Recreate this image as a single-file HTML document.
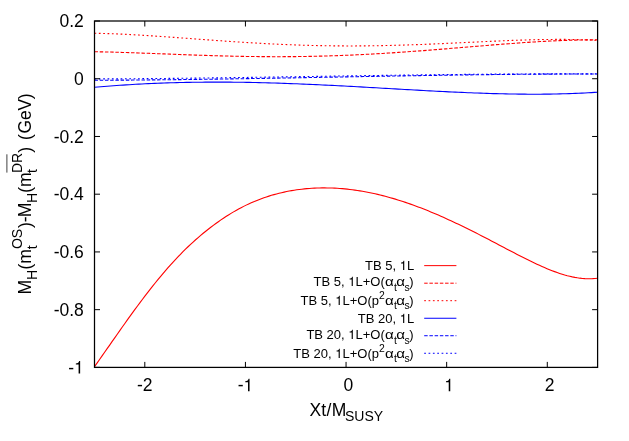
<!DOCTYPE html>
<html><head><meta charset="utf-8"><title>plot</title>
<style>
html,body{margin:0;padding:0;background:#fff;}
svg{display:block;will-change:transform;}
text{font-family:"Liberation Sans",sans-serif;fill:#000;}
.t{font-size:17.5px;}
.s{font-size:14px;}
.k{font-size:13px;}
.ks{font-size:10.4px;}
</style></head><body>
<svg width="629" height="441" viewBox="0 0 629 441">
<rect width="629" height="441" fill="#fff"/>
<g fill="none" stroke-width="1.1" stroke-linejoin="round">
<path d="M94.50,366.63 L97.03,363.07 L99.56,359.49 L102.08,355.90 L104.61,352.29 L107.14,348.68 L109.67,345.06 L112.20,341.44 L114.73,337.83 L117.25,334.22 L119.78,330.62 L122.31,327.04 L124.84,323.47 L127.37,319.92 L129.89,316.40 L132.42,312.90 L134.95,309.43 L137.48,305.99 L140.01,302.58 L142.53,299.21 L145.06,295.88 L147.59,292.58 L150.12,289.33 L152.65,286.13 L155.18,282.97 L157.70,279.86 L160.23,276.79 L162.76,273.78 L165.29,270.83 L167.82,267.93 L170.34,265.08 L172.87,262.29 L175.40,259.56 L177.93,256.89 L180.46,254.27 L182.98,251.71 L185.51,249.21 L188.04,246.77 L190.57,244.38 L193.10,242.06 L195.63,239.78 L198.15,237.56 L200.68,235.40 L203.21,233.28 L205.74,231.22 L208.27,229.21 L210.79,227.26 L213.32,225.35 L215.85,223.49 L218.38,221.68 L220.91,219.92 L223.44,218.21 L225.96,216.56 L228.49,214.95 L231.02,213.39 L233.55,211.89 L236.08,210.43 L238.60,209.03 L241.13,207.68 L243.66,206.38 L246.19,205.13 L248.72,203.93 L251.24,202.79 L253.77,201.69 L256.30,200.64 L258.83,199.64 L261.36,198.69 L263.89,197.78 L266.41,196.92 L268.94,196.11 L271.47,195.33 L274.00,194.60 L276.53,193.92 L279.05,193.27 L281.58,192.66 L284.11,192.10 L286.64,191.57 L289.17,191.08 L291.69,190.63 L294.22,190.21 L296.75,189.83 L299.28,189.49 L301.81,189.18 L304.34,188.91 L306.86,188.67 L309.39,188.46 L311.92,188.29 L314.45,188.15 L316.98,188.04 L319.50,187.96 L322.03,187.92 L324.56,187.91 L327.09,187.93 L329.62,187.98 L332.15,188.05 L334.67,188.16 L337.20,188.30 L339.73,188.47 L342.26,188.67 L344.79,188.90 L347.31,189.15 L349.84,189.44 L352.37,189.75 L354.90,190.09 L357.43,190.46 L359.95,190.86 L362.48,191.28 L365.01,191.73 L367.54,192.21 L370.07,192.71 L372.60,193.24 L375.12,193.79 L377.65,194.38 L380.18,194.98 L382.71,195.61 L385.24,196.27 L387.76,196.95 L390.29,197.66 L392.82,198.38 L395.35,199.14 L397.88,199.91 L400.41,200.71 L402.93,201.53 L405.46,202.37 L407.99,203.23 L410.52,204.11 L413.05,205.02 L415.57,205.94 L418.10,206.89 L420.63,207.85 L423.16,208.84 L425.69,209.84 L428.21,210.86 L430.74,211.90 L433.27,212.95 L435.80,214.03 L438.33,215.11 L440.86,216.22 L443.38,217.34 L445.91,218.48 L448.44,219.63 L450.97,220.79 L453.50,221.97 L456.02,223.16 L458.55,224.36 L461.08,225.58 L463.61,226.81 L466.14,228.05 L468.66,229.29 L471.19,230.55 L473.72,231.82 L476.25,233.10 L478.78,234.38 L481.31,235.68 L483.83,236.98 L486.36,238.29 L488.89,239.60 L491.42,240.92 L493.95,242.24 L496.47,243.57 L499.00,244.90 L501.53,246.23 L504.06,247.56 L506.59,248.89 L509.12,250.21 L511.64,251.54 L514.17,252.85 L516.70,254.17 L519.23,255.47 L521.76,256.76 L524.28,258.04 L526.81,259.30 L529.34,260.55 L531.87,261.78 L534.40,262.99 L536.92,264.18 L539.45,265.34 L541.98,266.48 L544.51,267.58 L547.04,268.65 L549.57,269.68 L552.09,270.68 L554.62,271.63 L557.15,272.54 L559.68,273.40 L562.21,274.21 L564.73,274.97 L567.26,275.67 L569.79,276.30 L572.32,276.88 L574.85,277.38 L577.37,277.81 L579.90,278.17 L582.43,278.45 L584.96,278.64 L587.49,278.74 L590.02,278.76 L592.54,278.67 L595.07,278.49 L597.60,278.20" stroke="#f00"/>
<path d="M94.50,51.73 L97.66,51.79 L100.83,51.85 L103.99,51.92 L107.16,51.99 L110.32,52.07 L113.48,52.15 L116.65,52.24 L119.81,52.34 L122.98,52.43 L126.14,52.53 L129.31,52.64 L132.47,52.75 L135.63,52.86 L138.80,52.97 L141.96,53.08 L145.13,53.20 L148.29,53.32 L151.45,53.44 L154.62,53.56 L157.78,53.68 L160.95,53.80 L164.11,53.92 L167.28,54.04 L170.44,54.16 L173.60,54.28 L176.77,54.40 L179.93,54.52 L183.10,54.64 L186.26,54.76 L189.42,54.87 L192.59,54.98 L195.75,55.09 L198.92,55.20 L202.08,55.31 L205.25,55.41 L208.41,55.51 L211.57,55.61 L214.74,55.70 L217.90,55.79 L221.07,55.88 L224.23,55.96 L227.39,56.04 L230.56,56.12 L233.72,56.19 L236.89,56.26 L240.05,56.32 L243.22,56.38 L246.38,56.43 L249.54,56.48 L252.71,56.52 L255.87,56.56 L259.04,56.59 L262.20,56.62 L265.36,56.65 L268.53,56.66 L271.69,56.68 L274.86,56.68 L278.02,56.68 L281.18,56.68 L284.35,56.67 L287.51,56.65 L290.68,56.63 L293.84,56.60 L297.01,56.57 L300.17,56.53 L303.33,56.48 L306.50,56.43 L309.66,56.37 L312.83,56.31 L315.99,56.24 L319.15,56.16 L322.32,56.08 L325.48,55.99 L328.65,55.90 L331.81,55.80 L334.98,55.69 L338.14,55.58 L341.30,55.47 L344.47,55.34 L347.63,55.21 L350.80,55.08 L353.96,54.94 L357.12,54.79 L360.29,54.64 L363.45,54.48 L366.62,54.32 L369.78,54.15 L372.95,53.98 L376.11,53.80 L379.27,53.62 L382.44,53.43 L385.60,53.23 L388.77,53.04 L391.93,52.83 L395.09,52.63 L398.26,52.42 L401.42,52.20 L404.59,51.98 L407.75,51.76 L410.92,51.53 L414.08,51.30 L417.24,51.06 L420.41,50.83 L423.57,50.59 L426.74,50.34 L429.90,50.10 L433.06,49.85 L436.23,49.60 L439.39,49.34 L442.56,49.09 L445.72,48.83 L448.88,48.57 L452.05,48.31 L455.21,48.05 L458.38,47.79 L461.54,47.53 L464.71,47.26 L467.87,47.00 L471.03,46.74 L474.20,46.47 L477.36,46.21 L480.53,45.95 L483.69,45.69 L486.85,45.43 L490.02,45.18 L493.18,44.92 L496.35,44.67 L499.51,44.42 L502.68,44.17 L505.84,43.93 L509.00,43.69 L512.17,43.45 L515.33,43.22 L518.50,43.00 L521.66,42.77 L524.82,42.56 L527.99,42.34 L531.15,42.14 L534.32,41.94 L537.48,41.75 L540.65,41.56 L543.81,41.38 L546.97,41.21 L550.14,41.05 L553.30,40.89 L556.47,40.75 L559.63,40.61 L562.79,40.49 L565.96,40.37 L569.12,40.27 L572.29,40.17 L575.45,40.09 L578.62,40.02 L581.78,39.96 L584.94,39.91 L588.11,39.88 L591.27,39.86 L594.44,39.85 L597.60,39.86" stroke="#f00" stroke-dasharray="3.48 1.74"/>
<path d="M94.50,33.25 L97.66,33.31 L100.83,33.39 L103.99,33.47 L107.16,33.57 L110.32,33.68 L113.48,33.79 L116.65,33.92 L119.81,34.06 L122.98,34.20 L126.14,34.36 L129.31,34.52 L132.47,34.69 L135.63,34.86 L138.80,35.04 L141.96,35.23 L145.13,35.43 L148.29,35.63 L151.45,35.83 L154.62,36.04 L157.78,36.25 L160.95,36.47 L164.11,36.69 L167.28,36.91 L170.44,37.13 L173.60,37.36 L176.77,37.59 L179.93,37.82 L183.10,38.05 L186.26,38.29 L189.42,38.52 L192.59,38.76 L195.75,38.99 L198.92,39.22 L202.08,39.46 L205.25,39.69 L208.41,39.92 L211.57,40.15 L214.74,40.38 L217.90,40.60 L221.07,40.82 L224.23,41.05 L227.39,41.26 L230.56,41.48 L233.72,41.69 L236.89,41.90 L240.05,42.11 L243.22,42.31 L246.38,42.50 L249.54,42.70 L252.71,42.89 L255.87,43.07 L259.04,43.25 L262.20,43.43 L265.36,43.60 L268.53,43.76 L271.69,43.92 L274.86,44.07 L278.02,44.22 L281.18,44.37 L284.35,44.50 L287.51,44.63 L290.68,44.76 L293.84,44.88 L297.01,44.99 L300.17,45.10 L303.33,45.20 L306.50,45.29 L309.66,45.38 L312.83,45.46 L315.99,45.54 L319.15,45.61 L322.32,45.67 L325.48,45.72 L328.65,45.77 L331.81,45.81 L334.98,45.85 L338.14,45.88 L341.30,45.90 L344.47,45.92 L347.63,45.93 L350.80,45.93 L353.96,45.93 L357.12,45.92 L360.29,45.90 L363.45,45.88 L366.62,45.85 L369.78,45.81 L372.95,45.77 L376.11,45.72 L379.27,45.67 L382.44,45.61 L385.60,45.55 L388.77,45.48 L391.93,45.40 L395.09,45.32 L398.26,45.23 L401.42,45.14 L404.59,45.05 L407.75,44.95 L410.92,44.84 L414.08,44.73 L417.24,44.62 L420.41,44.50 L423.57,44.38 L426.74,44.25 L429.90,44.12 L433.06,43.99 L436.23,43.86 L439.39,43.72 L442.56,43.58 L445.72,43.44 L448.88,43.29 L452.05,43.15 L455.21,43.00 L458.38,42.85 L461.54,42.70 L464.71,42.55 L467.87,42.40 L471.03,42.25 L474.20,42.09 L477.36,41.94 L480.53,41.79 L483.69,41.65 L486.85,41.50 L490.02,41.35 L493.18,41.21 L496.35,41.07 L499.51,40.93 L502.68,40.80 L505.84,40.67 L509.00,40.54 L512.17,40.42 L515.33,40.30 L518.50,40.19 L521.66,40.08 L524.82,39.98 L527.99,39.89 L531.15,39.80 L534.32,39.72 L537.48,39.65 L540.65,39.59 L543.81,39.53 L546.97,39.48 L550.14,39.45 L553.30,39.42 L556.47,39.40 L559.63,39.40 L562.79,39.41 L565.96,39.42 L569.12,39.45 L572.29,39.50 L575.45,39.56 L578.62,39.63 L581.78,39.71 L584.94,39.82 L588.11,39.93 L591.27,40.07 L594.44,40.22 L597.60,40.38" stroke="#f00" stroke-dasharray="1.74 2.61"/>
<path d="M94.50,87.25 L97.66,86.98 L100.83,86.71 L103.99,86.45 L107.16,86.21 L110.32,85.96 L113.48,85.73 L116.65,85.50 L119.81,85.29 L122.98,85.08 L126.14,84.87 L129.31,84.68 L132.47,84.49 L135.63,84.31 L138.80,84.14 L141.96,83.97 L145.13,83.81 L148.29,83.66 L151.45,83.52 L154.62,83.38 L157.78,83.25 L160.95,83.13 L164.11,83.02 L167.28,82.91 L170.44,82.81 L173.60,82.72 L176.77,82.63 L179.93,82.55 L183.10,82.48 L186.26,82.41 L189.42,82.35 L192.59,82.30 L195.75,82.26 L198.92,82.22 L202.08,82.18 L205.25,82.16 L208.41,82.14 L211.57,82.12 L214.74,82.12 L217.90,82.11 L221.07,82.12 L224.23,82.13 L227.39,82.14 L230.56,82.17 L233.72,82.19 L236.89,82.23 L240.05,82.27 L243.22,82.31 L246.38,82.36 L249.54,82.42 L252.71,82.48 L255.87,82.54 L259.04,82.61 L262.20,82.69 L265.36,82.77 L268.53,82.85 L271.69,82.94 L274.86,83.04 L278.02,83.14 L281.18,83.24 L284.35,83.35 L287.51,83.46 L290.68,83.58 L293.84,83.70 L297.01,83.82 L300.17,83.95 L303.33,84.08 L306.50,84.21 L309.66,84.35 L312.83,84.49 L315.99,84.64 L319.15,84.78 L322.32,84.94 L325.48,85.09 L328.65,85.24 L331.81,85.40 L334.98,85.56 L338.14,85.73 L341.30,85.89 L344.47,86.06 L347.63,86.23 L350.80,86.40 L353.96,86.57 L357.12,86.75 L360.29,86.92 L363.45,87.10 L366.62,87.28 L369.78,87.46 L372.95,87.64 L376.11,87.82 L379.27,88.00 L382.44,88.18 L385.60,88.37 L388.77,88.55 L391.93,88.73 L395.09,88.91 L398.26,89.09 L401.42,89.28 L404.59,89.46 L407.75,89.64 L410.92,89.82 L414.08,89.99 L417.24,90.17 L420.41,90.34 L423.57,90.52 L426.74,90.69 L429.90,90.86 L433.06,91.03 L436.23,91.19 L439.39,91.36 L442.56,91.52 L445.72,91.67 L448.88,91.83 L452.05,91.98 L455.21,92.13 L458.38,92.27 L461.54,92.41 L464.71,92.55 L467.87,92.68 L471.03,92.81 L474.20,92.94 L477.36,93.05 L480.53,93.17 L483.69,93.28 L486.85,93.38 L490.02,93.48 L493.18,93.58 L496.35,93.67 L499.51,93.75 L502.68,93.82 L505.84,93.89 L509.00,93.96 L512.17,94.01 L515.33,94.06 L518.50,94.10 L521.66,94.14 L524.82,94.17 L527.99,94.18 L531.15,94.20 L534.32,94.20 L537.48,94.19 L540.65,94.18 L543.81,94.16 L546.97,94.12 L550.14,94.08 L553.30,94.03 L556.47,93.97 L559.63,93.90 L562.79,93.82 L565.96,93.73 L569.12,93.63 L572.29,93.51 L575.45,93.39 L578.62,93.25 L581.78,93.11 L584.94,92.95 L588.11,92.78 L591.27,92.59 L594.44,92.40 L597.60,92.19" stroke="#00f"/>
<path d="M94.50,80.26 L97.66,80.26 L100.83,80.24 L103.99,80.23 L107.16,80.22 L110.32,80.20 L113.48,80.19 L116.65,80.17 L119.81,80.15 L122.98,80.13 L126.14,80.11 L129.31,80.09 L132.47,80.07 L135.63,80.04 L138.80,80.02 L141.96,79.99 L145.13,79.96 L148.29,79.94 L151.45,79.91 L154.62,79.88 L157.78,79.85 L160.95,79.81 L164.11,79.78 L167.28,79.75 L170.44,79.71 L173.60,79.68 L176.77,79.64 L179.93,79.60 L183.10,79.56 L186.26,79.52 L189.42,79.48 L192.59,79.44 L195.75,79.40 L198.92,79.36 L202.08,79.32 L205.25,79.27 L208.41,79.23 L211.57,79.18 L214.74,79.14 L217.90,79.09 L221.07,79.04 L224.23,79.00 L227.39,78.95 L230.56,78.90 L233.72,78.85 L236.89,78.80 L240.05,78.75 L243.22,78.70 L246.38,78.65 L249.54,78.60 L252.71,78.54 L255.87,78.49 L259.04,78.44 L262.20,78.38 L265.36,78.33 L268.53,78.28 L271.69,78.22 L274.86,78.17 L278.02,78.11 L281.18,78.06 L284.35,78.00 L287.51,77.94 L290.68,77.89 L293.84,77.83 L297.01,77.77 L300.17,77.72 L303.33,77.66 L306.50,77.60 L309.66,77.54 L312.83,77.49 L315.99,77.43 L319.15,77.37 L322.32,77.31 L325.48,77.26 L328.65,77.20 L331.81,77.14 L334.98,77.08 L338.14,77.02 L341.30,76.97 L344.47,76.91 L347.63,76.85 L350.80,76.79 L353.96,76.74 L357.12,76.68 L360.29,76.62 L363.45,76.56 L366.62,76.51 L369.78,76.45 L372.95,76.39 L376.11,76.34 L379.27,76.28 L382.44,76.22 L385.60,76.17 L388.77,76.11 L391.93,76.06 L395.09,76.00 L398.26,75.95 L401.42,75.90 L404.59,75.84 L407.75,75.79 L410.92,75.74 L414.08,75.68 L417.24,75.63 L420.41,75.58 L423.57,75.53 L426.74,75.48 L429.90,75.43 L433.06,75.38 L436.23,75.33 L439.39,75.28 L442.56,75.24 L445.72,75.19 L448.88,75.14 L452.05,75.10 L455.21,75.05 L458.38,75.01 L461.54,74.97 L464.71,74.92 L467.87,74.88 L471.03,74.84 L474.20,74.80 L477.36,74.76 L480.53,74.72 L483.69,74.68 L486.85,74.64 L490.02,74.61 L493.18,74.57 L496.35,74.54 L499.51,74.50 L502.68,74.47 L505.84,74.44 L509.00,74.41 L512.17,74.38 L515.33,74.35 L518.50,74.32 L521.66,74.29 L524.82,74.27 L527.99,74.24 L531.15,74.22 L534.32,74.20 L537.48,74.18 L540.65,74.16 L543.81,74.14 L546.97,74.12 L550.14,74.10 L553.30,74.09 L556.47,74.07 L559.63,74.06 L562.79,74.05 L565.96,74.04 L569.12,74.03 L572.29,74.02 L575.45,74.01 L578.62,74.01 L581.78,74.00 L584.94,74.00 L588.11,74.00 L591.27,74.00 L594.44,74.00 L597.60,74.00" stroke="#00f" stroke-dasharray="3.48 1.74"/>
<path d="M94.50,78.96 L97.66,78.94 L100.83,78.93 L103.99,78.92 L107.16,78.90 L110.32,78.88 L113.48,78.87 L116.65,78.85 L119.81,78.83 L122.98,78.81 L126.14,78.79 L129.31,78.76 L132.47,78.74 L135.63,78.72 L138.80,78.69 L141.96,78.67 L145.13,78.64 L148.29,78.61 L151.45,78.58 L154.62,78.55 L157.78,78.52 L160.95,78.49 L164.11,78.46 L167.28,78.43 L170.44,78.40 L173.60,78.36 L176.77,78.33 L179.93,78.30 L183.10,78.26 L186.26,78.22 L189.42,78.19 L192.59,78.15 L195.75,78.11 L198.92,78.07 L202.08,78.04 L205.25,78.00 L208.41,77.96 L211.57,77.92 L214.74,77.87 L217.90,77.83 L221.07,77.79 L224.23,77.75 L227.39,77.71 L230.56,77.66 L233.72,77.62 L236.89,77.58 L240.05,77.53 L243.22,77.49 L246.38,77.44 L249.54,77.40 L252.71,77.35 L255.87,77.31 L259.04,77.26 L262.20,77.21 L265.36,77.17 L268.53,77.12 L271.69,77.07 L274.86,77.02 L278.02,76.98 L281.18,76.93 L284.35,76.88 L287.51,76.83 L290.68,76.79 L293.84,76.74 L297.01,76.69 L300.17,76.64 L303.33,76.59 L306.50,76.54 L309.66,76.50 L312.83,76.45 L315.99,76.40 L319.15,76.35 L322.32,76.30 L325.48,76.25 L328.65,76.20 L331.81,76.16 L334.98,76.11 L338.14,76.06 L341.30,76.01 L344.47,75.96 L347.63,75.92 L350.80,75.87 L353.96,75.82 L357.12,75.77 L360.29,75.73 L363.45,75.68 L366.62,75.63 L369.78,75.59 L372.95,75.54 L376.11,75.50 L379.27,75.45 L382.44,75.41 L385.60,75.36 L388.77,75.32 L391.93,75.27 L395.09,75.23 L398.26,75.19 L401.42,75.14 L404.59,75.10 L407.75,75.06 L410.92,75.02 L414.08,74.98 L417.24,74.93 L420.41,74.89 L423.57,74.86 L426.74,74.82 L429.90,74.78 L433.06,74.74 L436.23,74.70 L439.39,74.67 L442.56,74.63 L445.72,74.59 L448.88,74.56 L452.05,74.52 L455.21,74.49 L458.38,74.46 L461.54,74.43 L464.71,74.39 L467.87,74.36 L471.03,74.33 L474.20,74.30 L477.36,74.28 L480.53,74.25 L483.69,74.22 L486.85,74.20 L490.02,74.17 L493.18,74.15 L496.35,74.12 L499.51,74.10 L502.68,74.08 L505.84,74.06 L509.00,74.04 L512.17,74.02 L515.33,74.00 L518.50,73.98 L521.66,73.97 L524.82,73.95 L527.99,73.94 L531.15,73.92 L534.32,73.91 L537.48,73.90 L540.65,73.89 L543.81,73.88 L546.97,73.88 L550.14,73.87 L553.30,73.86 L556.47,73.86 L559.63,73.86 L562.79,73.85 L565.96,73.85 L569.12,73.85 L572.29,73.86 L575.45,73.86 L578.62,73.86 L581.78,73.87 L584.94,73.88 L588.11,73.88 L591.27,73.89 L594.44,73.90 L597.60,73.92" stroke="#00f" stroke-dasharray="1.74 2.61"/>
</g>
<g stroke="#000" stroke-width="1.0" fill="none">
<path d="M94.50,21.00h5.5 M597.60,21.00h-5.5 M94.50,78.73h5.5 M597.60,78.73h-5.5 M94.50,136.47h5.5 M597.60,136.47h-5.5 M94.50,194.20h5.5 M597.60,194.20h-5.5 M94.50,251.93h5.5 M597.60,251.93h-5.5 M94.50,309.67h5.5 M597.60,309.67h-5.5 M94.50,367.40h5.5 M597.60,367.40h-5.5 M144.81,367.40v-5.5 M144.81,21.00v5.5 M245.43,367.40v-5.5 M245.43,21.00v5.5 M346.05,367.40v-5.5 M346.05,21.00v5.5 M446.67,367.40v-5.5 M446.67,21.00v5.5 M547.29,367.40v-5.5 M547.29,21.00v5.5"/>
</g>
<rect x="94.50" y="21.00" width="503.10" height="346.40" fill="none" stroke="#000" stroke-width="1.25"/>
<text class="t" x="83.80" y="27.15" text-anchor="end">0.2</text>
<text class="t" x="83.80" y="84.88" text-anchor="end">0</text>
<text class="t" x="83.80" y="142.62" text-anchor="end">-0.2</text>
<text class="t" x="83.80" y="200.35" text-anchor="end">-0.4</text>
<text class="t" x="83.80" y="258.08" text-anchor="end">-0.6</text>
<text class="t" x="83.80" y="315.82" text-anchor="end">-0.8</text>
<text class="t" x="68.24" y="373.90">-</text>
<path d="M259,0V505H102V568C190,570 262,600 293,709H347V0Z" transform="translate(74.07,373.40) scale(0.01750,-0.01750)" fill="#000"/>
<text class="t" x="144.81" y="391.00" text-anchor="middle">-2</text>
<text class="t" x="348.45" y="391.00" text-anchor="middle">0</text>
<text class="t" x="549.69" y="391.00" text-anchor="middle">2</text>
<text class="t" x="237.65" y="391.00">-</text>
<path d="M259,0V505H102V568C190,570 262,600 293,709H347V0Z" transform="translate(243.48,391.20) scale(0.01750,-0.01750)" fill="#000"/>
<path d="M259,0V505H102V568C190,570 262,600 293,709H347V0Z" transform="translate(444.20,391.20) scale(0.01750,-0.01750)" fill="#000"/>
<text class="t" x="309.4" y="415.8" letter-spacing="0.3">Xt/M</text>
<text class="s" x="345.0" y="421.0">SUSY</text>
<g transform="translate(31.2,294.6) rotate(-90)">
<text class="t" x="0.00" y="0.00">M</text>
<text class="s" x="14.58" y="5.50">H</text>
<text class="t" x="25.00" y="0.00">(</text>
<text class="t" x="30.90" y="0.00">m</text>
<text class="s" x="45.30" y="5.50">t</text>
<text class="s" x="45.50" y="-9.00">OS</text>
<text class="t" x="66.50" y="0.00">)</text>
<text class="t" x="72.40" y="0.00">-</text>
<text class="t" x="77.30" y="0.00">M</text>
<text class="s" x="91.60" y="5.50">H</text>
<text class="t" x="101.90" y="0.00">(</text>
<text class="t" x="107.60" y="0.00">m</text>
<text class="s" x="121.50" y="5.50">t</text>
<text class="s" x="121.60" y="-9.00">DR</text>
<text class="t" x="141.80" y="0.00">)</text>
<text class="t" x="154.50" y="0.00">(</text>
<text class="t" x="161.20" y="0.00">G</text>
<text class="t" x="174.50" y="0.00">e</text>
<text class="t" x="184.00" y="0.00">V</text>
<text class="t" x="195.40" y="0.00">)</text>
<path d="M122.0,-24.3H140.3" stroke="#000" stroke-width="0.75" fill="none"/>
</g>
<path d="M424.2,265.63H456.4" stroke="#f00" stroke-width="1" fill="none"/>
<text class="k" x="406.97" y="270.13">L</text>
<path d="M259,0V505H102V568C190,570 262,600 293,709H347V0Z" transform="translate(399.74,270.00) scale(0.01300,-0.01300)" fill="#000"/>
<text class="k" x="396.13" y="270.13" text-anchor="end">TB 5,</text>
<path d="M424.2,283.20H456.4" stroke="#f00" stroke-width="1" fill="none" stroke-dasharray="3.48 1.74"/>
<text class="k" x="409.37" y="286.30">)</text>
<text class="ks" x="404.6" y="290.60">s</text>
<text class="k" transform="translate(396.34,286.30) scale(1.1650,1)">α</text>
<text class="ks" x="394.05" y="290.60">t</text>
<text class="k" transform="translate(385.04,286.30) scale(1.1650,1)">α</text>
<text class="k" x="384.80" y="286.30" text-anchor="end">L+O(</text>
<path d="M259,0V505H102V568C190,570 262,600 293,709H347V0Z" transform="translate(348.31,286.00) scale(0.01300,-0.01300)" fill="#000"/>
<text class="k" x="344.70" y="286.30" text-anchor="end">TB 5,</text>
<path d="M424.2,300.69H456.4" stroke="#f00" stroke-width="1" fill="none" stroke-dasharray="1.74 2.61"/>
<text class="k" x="409.37" y="305.19">)</text>
<text class="ks" x="404.6" y="309.49">s</text>
<text class="k" transform="translate(396.34,305.19) scale(1.1650,1)">α</text>
<text class="ks" x="394.05" y="309.49">t</text>
<text class="k" transform="translate(385.04,305.19) scale(1.1650,1)">α</text>
<text class="ks" x="379.0" y="299.19">2</text>
<text class="k" x="371.77" y="305.19">p</text>
<text class="k" x="371.77" y="305.19" text-anchor="end">L+O(</text>
<path d="M259,0V505H102V568C190,570 262,600 293,709H347V0Z" transform="translate(335.28,305.00) scale(0.01300,-0.01300)" fill="#000"/>
<text class="k" x="331.67" y="305.19" text-anchor="end">TB 5,</text>
<path d="M424.2,318.25H456.4" stroke="#00f" stroke-width="1" fill="none"/>
<text class="k" x="406.97" y="322.75">L</text>
<path d="M259,0V505H102V568C190,570 262,600 293,709H347V0Z" transform="translate(399.74,323.00) scale(0.01300,-0.01300)" fill="#000"/>
<text class="k" x="396.13" y="322.75" text-anchor="end">TB 20,</text>
<path d="M424.2,335.73H456.4" stroke="#00f" stroke-width="1" fill="none" stroke-dasharray="3.48 1.74"/>
<text class="k" x="409.37" y="339.33">)</text>
<text class="ks" x="404.6" y="343.63">s</text>
<text class="k" transform="translate(396.34,339.33) scale(1.1650,1)">α</text>
<text class="ks" x="394.05" y="343.63">t</text>
<text class="k" transform="translate(385.04,339.33) scale(1.1650,1)">α</text>
<text class="k" x="384.80" y="339.33" text-anchor="end">L+O(</text>
<path d="M259,0V505H102V568C190,570 262,600 293,709H347V0Z" transform="translate(348.31,339.00) scale(0.01300,-0.01300)" fill="#000"/>
<text class="k" x="344.70" y="339.33" text-anchor="end">TB 20,</text>
<path d="M424.2,353.28H456.4" stroke="#00f" stroke-width="1" fill="none" stroke-dasharray="1.74 2.61"/>
<text class="k" x="409.37" y="357.78">)</text>
<text class="ks" x="404.6" y="362.08">s</text>
<text class="k" transform="translate(396.34,357.78) scale(1.1650,1)">α</text>
<text class="ks" x="394.05" y="362.08">t</text>
<text class="k" transform="translate(385.04,357.78) scale(1.1650,1)">α</text>
<text class="ks" x="379.0" y="351.78">2</text>
<text class="k" x="371.77" y="357.78">p</text>
<text class="k" x="371.77" y="357.78" text-anchor="end">L+O(</text>
<path d="M259,0V505H102V568C190,570 262,600 293,709H347V0Z" transform="translate(335.28,358.00) scale(0.01300,-0.01300)" fill="#000"/>
<text class="k" x="331.67" y="357.78" text-anchor="end">TB 20,</text>
</svg>
</body></html>
